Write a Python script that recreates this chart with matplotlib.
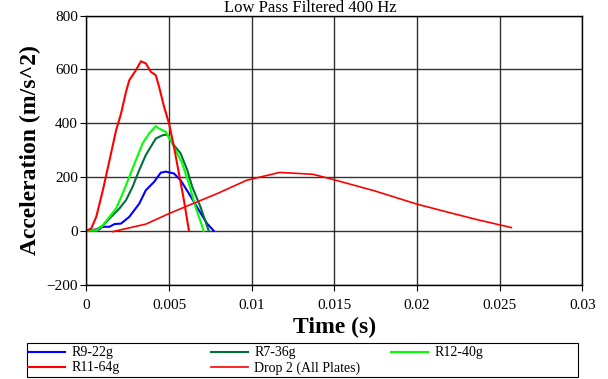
import numpy as np
import matplotlib.pyplot as plt
from matplotlib.patches import Rectangle

plt.rcParams.update({'font.family': 'Liberation Serif', 'axes.linewidth': 1.0,
                     'xtick.labelsize': 11, 'ytick.labelsize': 11})

# R9-22g
t_r9 = [0, 0.0006, 0.0009, 0.0014, 0.0017, 0.0021, 0.0026, 0.0032, 0.0036, 0.0041,
        0.0045, 0.0048, 0.0053, 0.0057, 0.0062, 0.0068, 0.0073, 0.0077]
a_r9 = [0, 5, 15, 15, 25, 27, 52, 101, 151, 182, 216, 220, 213, 188, 139, 77, 27, 0]

# R7-36g
t_r7 = [0, 0.0008, 0.0012, 0.0016, 0.002, 0.0024, 0.0028, 0.0032, 0.0036, 0.0042,
        0.0046, 0.0049, 0.0052, 0.0057, 0.0061, 0.0064, 0.0069, 0.0074]
a_r7 = [0, 5, 33, 58, 83, 114, 164, 226, 282, 343, 355, 358, 325, 288, 226, 164, 89, 0]

# R12-40g
t_r12 = [0, 0.0006, 0.001, 0.0014, 0.0018, 0.0022, 0.0026, 0.003, 0.0034, 0.0038,
         0.0042, 0.0044, 0.0048, 0.0051, 0.0054, 0.0058, 0.0062, 0.0066, 0.0071]
a_r12 = [0, 2, 21, 52, 83, 139, 201, 263, 325, 362, 389, 380, 368, 337, 300, 250,
         176, 89, 0]

# R11-64g
t_r11 = [0, 0.0003, 0.0006, 0.001, 0.0014, 0.0018, 0.0021, 0.0024, 0.0026, 0.003,
         0.0033, 0.0036, 0.0039, 0.0042, 0.0044, 0.0047, 0.005, 0.0053, 0.0056,
         0.0059, 0.0062]
a_r11 = [0, 9, 52, 151, 262, 374, 436, 517, 560, 597, 630, 622, 591, 578, 535, 461,
         399, 312, 213, 114, 2]

# Drop 2 (All Plates)
t_drop = [0.0016, 0.0036, 0.005, 0.0064, 0.0079, 0.0097, 0.0117, 0.0137, 0.0149,
          0.0174, 0.02, 0.022, 0.0236, 0.0257]
a_drop = [-3, 25, 64, 100, 138, 188, 217, 210, 191, 149, 99, 67, 42, 12]

fig = plt.figure(figsize=(6.08, 3.79), dpi=100)
ax = fig.add_axes([0.142, 0.249, 0.816, 0.710])

l9, = ax.plot(t_r9, a_r9, color='#0000ff', lw=1.5, label='R9-22g')
l7, = ax.plot(t_r7, a_r7, color='#007038', lw=1.5, label='R7-36g')
l12, = ax.plot(t_r12, a_r12, color='#00ff00', lw=1.5, label='R12-40g')
l11, = ax.plot(t_r11, a_r11, color='#ff0000', lw=1.5, label='R11-64g')
ld, = ax.plot(t_drop, a_drop, color='#ff0000', lw=1.2, label='Drop 2 (All Plates)')

ax.set_xlim(0, 0.03)
ax.set_ylim(-200, 800)
ax.set_xticks(np.arange(0, 0.0301, 0.005))
ax.set_xticklabels(['0', '0.005', '0.01', '0.015', '0.02', '0.025', '0.03'])
ax.set_yticks(np.arange(-200, 801, 200))
ax.set_yticklabels(['\u2212200', '0', '200', '400', '600', '800'])
ax.grid(True, color='black', lw=1.0, alpha=0.8)
ax.set_axisbelow(True)
ax.tick_params(direction='out', length=4, pad=2)
ax.tick_params(axis='x', pad=6)

ax.set_xlabel('Time (s)', fontsize=17, fontweight='bold', labelpad=4)
ax.set_ylabel('Acceleration (m/s^2)', fontsize=17, fontweight='bold', labelpad=4)
fig.text(0.51, 0.999, 'Low Pass Filtered 400 Hz', ha='center', va='top', fontsize=12)

# legend: box plus three columns, filled row by row like the original
fig.patches.append(Rectangle((27 / 608, 2 / 379), 551 / 608, 34 / 379,
                             transform=fig.transFigure, fill=False,
                             edgecolor='black', lw=0.8))
columns = [([l9, l11], 27), ([l7, ld], 210), ([l12], 390)]
for handles, x0 in columns:
    leg = fig.legend(handles=handles, loc='upper left',
                     bbox_to_anchor=(x0 / 608, 34 / 379), fontsize=10,
                     frameon=False, handlelength=2.6, borderpad=0.1,
                     labelspacing=0.15, handletextpad=0.5, borderaxespad=0.0)

fig.savefig('out.png', dpi=100)
